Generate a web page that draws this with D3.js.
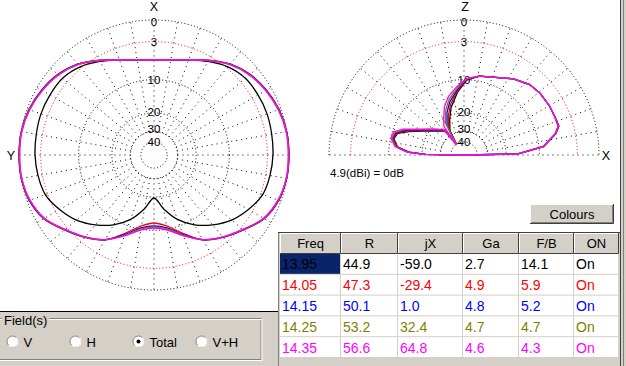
<!DOCTYPE html>
<html>
<head>
<meta charset="utf-8">
<script src="https://cdn.jsdelivr.net/npm/d3@7"></script>
<style>
  body { margin: 0; background: #fff; overflow: hidden; }
  svg { display: block; font-family: "Liberation Sans", Arial, sans-serif; }
</style>
</head>
<body>
<svg id="chart" width="626" height="366"></svg>
<script>
// ---- data ----
const ringLevels = [0, -3, -10, -20, -30, -40];
const ringLabels = ['0', '3', '10', '20', '30', '40'];
const seriesColours = ['#000000', '#ff0000', '#0000ff', '#808000', '#ff00ff'];

// azimuth plot (angle from X toward Y, pattern mirrors on the other side)
const azAngles  = [0, 10, 20, 30, 40, 50, 60, 70, 80, 90, 100, 110, 120, 130, 140, 150, 160, 170, 180];
const azBlack   = [-6.03, -5.76, -4.96, -3.83, -2.75, -2.12, -2.01, -1.98, -2.09, -2.17, -2.34, -2.65, -3.67, -4.93, -6.73, -8.85, -11.64, -15.57, -19.64];
const azRed     = [-6.03, -5.76, -4.96, -3.60, -2.20, -1.25, -0.66, -0.22, -0.02, 0.00, -0.02, -0.28, -1.00, -2.50, -3.90, -5.50, -8.35, -10.79, -11.77];
const azBlue    = [-6.03, -5.76, -4.96, -3.62, -2.24, -1.30, -0.70, -0.27, -0.05, -0.03, -0.05, -0.32, -1.04, -2.55, -3.94, -5.52, -8.04, -10.32, -11.03];
const azOlive   = [-6.03, -5.76, -4.96, -3.65, -2.28, -1.34, -0.75, -0.31, -0.07, -0.06, -0.07, -0.36, -1.08, -2.59, -3.98, -5.54, -7.84, -10.09, -10.79];
const azMagenta = [-6.03, -5.76, -4.96, -3.67, -2.31, -1.38, -0.79, -0.36, -0.10, -0.09, -0.10, -0.40, -1.12, -2.63, -4.01, -5.55, -7.72, -9.82, -10.55];

// elevation plot (angle from X up over Z)
const elAngles  = [0, 1, 6, 13, 17, 23, 30, 39, 47, 57, 68, 79, 88, 96, 105, 112, 120, 125, 127, 129, 135, 140, 150, 157, 162, 167, 173, 177, 179, 180];
const elBlack   = [-99, -16.0, -9.0, -6.2, -5.3, -5.4, -5.4, -5.5, -5.8, -6.8, -8.2, -8.9, -10.1, -13.1, -17.2, -21.6, -27.0, -40.0, -25.8, -25.3, -23.7, -22.1, -17.8, -13.9, -11.3, -10.8, -12.0, -15.4, -21.8, -99];
const elRed     = [-99, -16.0, -9.0, -6.2, -5.3, -5.4, -5.4, -5.5, -5.8, -6.8, -8.2, -8.9, -10.0, -12.8, -16.3, -20.1, -25.3, -40.0, -25.5, -25.1, -23.5, -21.8, -17.5, -13.5, -11.1, -10.7, -11.9, -15.2, -21.5, -99];
const elBlue    = [-99, -16.1, -9.1, -6.3, -5.4, -5.4, -5.4, -5.5, -5.8, -6.8, -8.2, -8.9, -9.9, -12.4, -15.4, -18.7, -23.7, -40.0, -25.1, -24.8, -23.2, -21.4, -17.1, -13.0, -10.9, -10.5, -11.7, -15.0, -21.2, -99];
const elOlive   = [-99, -16.1, -9.1, -6.3, -5.4, -5.4, -5.4, -5.5, -5.8, -6.8, -8.2, -8.9, -9.8, -12.0, -14.6, -17.5, -22.1, -40.0, -24.7, -24.5, -22.9, -21.1, -16.8, -12.6, -10.6, -10.3, -11.6, -14.9, -20.9, -99];
const elMagenta = [-99, -16.1, -9.1, -6.3, -5.4, -5.4, -5.4, -5.5, -5.8, -6.8, -8.2, -8.9, -9.7, -11.6, -13.8, -16.3, -20.6, -23.2, -41.0, -24.2, -22.5, -20.7, -16.4, -12.2, -10.3, -10.1, -11.4, -14.7, -20.6, -99];

// table
const tableHeaders = ['Freq', 'R', 'jX', 'Ga', 'F/B', 'ON'];
const freqs   = ['13.95', '14.05', '14.15', '14.25', '14.35'];
const resR    = ['44.9', '47.3', '50.1', '53.2', '56.6'];
const resX    = ['-59.0', '-29.4', '1.0', '32.4', '64.8'];
const gainGa  = ['2.7', '4.9', '4.8', '4.7', '4.6'];
const fbRatio = ['14.1', '5.9', '5.2', '4.7', '4.3'];
const onState = ['On', 'On', 'On', 'On', 'On'];
const fieldOptions = ['V', 'H', 'Total', 'V+H'];

const azSeries = [azBlack, azRed, azBlue, azOlive, azMagenta];
const elSeries = [elBlack, elRed, elBlue, elOlive, elMagenta];

// ---- drawing ----
const svg = d3.select('#chart');
const FACE = '#d4d0c8';
const R = 135;
const rad = Math.PI / 180;

// ARRL style log scale: 2 dB per 0.89 step, as a power scale on linear gain
const rScale = d3.scalePow().exponent(0.25305).domain([0, 1]).range([0, R]);
const radius = db => rScale(Math.pow(10, db / 10));
// small nudges so the ring labels sit as in the original
const labelShift = [1.5, 0, 0, -1, -2.5, 0];

svg.append('rect').attr('width', 626).attr('height', 366).attr('fill', '#fff');

function drawGrid(g, half) {
    ringLevels.forEach(lvl => {
        const r = radius(lvl);
        const p = d3.path();
        if (half) { p.moveTo(-r, 0); p.arc(0, 0, r, Math.PI, 2 * Math.PI); }
        else { p.moveTo(r, 0); p.arc(0, 0, r, 0, 2 * Math.PI); }
        g.append('path')
            .attr('d', p.toString())
            .attr('fill', 'none')
            .attr('stroke', lvl === -3 ? '#ff0000' : '#000')
            .attr('stroke-dasharray', '1 2.3');
    });

    const r0 = radius(-30);
    g.append('g').selectAll('line')
        .data(d3.range(0, half ? 181 : 360, 10))
        .enter().append('line')
        .attr('x1', a => r0 * Math.cos(a * rad))
        .attr('y1', a => -r0 * Math.sin(a * rad))
        .attr('x2', a => R * Math.cos(a * rad))
        .attr('y2', a => -R * Math.sin(a * rad))
        .attr('stroke', '#000')
        .attr('stroke-dasharray', '1 4');

    g.append('g').selectAll('text')
        .data(ringLevels)
        .enter().append('text')
        .text((d, i) => ringLabels[i])
        .attr('x', 0)
        .attr('y', (d, i) => -radius(d) + labelShift[i])
        .attr('text-anchor', 'middle')
        .attr('dominant-baseline', 'central')
        .attr('font-size', 11.5);
}

function axisLabel(g, txt, x, y) {
    g.append('text').text(txt)
        .attr('x', x).attr('y', y)
        .attr('text-anchor', 'middle')
        .attr('dominant-baseline', 'central')
        .attr('font-size', 12.5);
}

// azimuth plot
const az = svg.append('g').attr('transform', 'translate(154,155)');
drawGrid(az, false);
axisLabel(az, 'X', 0, -148);
axisLabel(az, 'Y', -143, 1);

const azLine = d3.lineRadial()
    .angle(d => d.a)
    .radius(d => radius(d.db))
    .curve(d3.curveCatmullRomClosed.alpha(0.5));

azSeries.forEach((vals, s) => {
    const pts = azAngles.map((a, i) => ({ a: -a * rad, db: vals[i] }));
    for (let i = azAngles.length - 2; i > 0; i--)
        pts.push({ a: azAngles[i] * rad, db: vals[i] });
    az.append('path')
        .attr('d', azLine(pts))
        .attr('fill', 'none')
        .attr('stroke', seriesColours[s])
        .attr('stroke-width', 1.3);
});

// elevation plot
const el = svg.append('g').attr('transform', 'translate(464,155)');
drawGrid(el, true);
axisLabel(el, 'Z', 1, -148);
axisLabel(el, 'X', 142, 1);

const elLine = d3.lineRadial()
    .angle(d => Math.PI / 2 - d.a * rad)
    .radius(d => radius(d.db))
    .curve(d3.curveLinearClosed);

elSeries.forEach((vals, s) => {
    el.append('path')
        .attr('d', elLine(elAngles.map((a, i) => ({ a: a, db: vals[i] }))))
        .attr('fill', 'none')
        .attr('stroke', seriesColours[s])
        .attr('stroke-width', 1.3);
});

svg.append('text').text('4.9(dBi) = 0dB')
    .attr('x', 330).attr('y', 177)
    .attr('font-size', 11.5);

// window chrome
svg.append('rect').attr('x', 0).attr('y', 311).attr('width', 279).attr('height', 55).attr('fill', FACE);
svg.append('line').attr('x1', 0).attr('x2', 279).attr('y1', 311.5).attr('y2', 311.5).attr('stroke', '#000');
svg.append('rect').attr('x', 620).attr('y', 0).attr('width', 6).attr('height', 366).attr('fill', FACE);
svg.append('line').attr('x1', 620.5).attr('x2', 620.5).attr('y1', 0).attr('y2', 366).attr('stroke', '#404040');
svg.append('line').attr('x1', 623.5).attr('x2', 623.5).attr('y1', 0).attr('y2', 366).attr('stroke', '#808080');

// Colours button
function button3d(x, y, w, h) {
    svg.append('rect').attr('x', x).attr('y', y).attr('width', w).attr('height', h).attr('fill', FACE);
    svg.append('path').attr('d', `M${x + 0.5},${y + h}V${y + 0.5}H${x + w}`).attr('fill', 'none').attr('stroke', '#fff');
    svg.append('path').attr('d', `M${x},${y + h - 0.5}H${x + w - 0.5}V${y}`).attr('fill', 'none').attr('stroke', '#404040');
    svg.append('path').attr('d', `M${x + 1},${y + h - 1.5}H${x + w - 1.5}V${y + 1}`).attr('fill', 'none').attr('stroke', '#808080');
}
button3d(530, 204, 84, 20);
svg.append('text').text('Colours')
    .attr('x', 572).attr('y', 214.5)
    .attr('text-anchor', 'middle').attr('dominant-baseline', 'central')
    .attr('font-size', 13);

// Field(s) group box
svg.append('rect').attr('x', -2).attr('y', 318.5).attr('width', 263).attr('height', 41)
    .attr('fill', 'none').attr('stroke', '#808080');
svg.append('rect').attr('x', -1).attr('y', 319.5).attr('width', 263).attr('height', 41)
    .attr('fill', 'none').attr('stroke', '#fff');
svg.append('rect').attr('x', 2).attr('y', 312).attr('width', 47).attr('height', 14).attr('fill', FACE);
svg.append('text').text('Field(s)')
    .attr('x', 4).attr('y', 320.5)
    .attr('dominant-baseline', 'central').attr('font-size', 13);

const radioX = [12.5, 75.5, 138.5, 201.5];
const radios = svg.append('g').selectAll('g')
    .data(fieldOptions)
    .enter().append('g')
    .attr('transform', (d, i) => `translate(${radioX[i]},341.5)`);
radios.append('circle').attr('r', 5.5).attr('fill', '#fff').attr('stroke', '#808080');
radios.append('path').attr('d', 'M3.9,-3.9A5.5,5.5 0 0 1 -3.9,3.9').attr('fill', 'none').attr('stroke', '#fff').attr('stroke-width', 1.2);
radios.append('circle').attr('r', 2).attr('fill', d => d === 'Total' ? '#000' : 'none');
radios.append('text').text(d => d)
    .attr('x', 11).attr('y', 0.5)
    .attr('dominant-baseline', 'central').attr('font-size', 13);

// results table
const colX = [280, 341, 398, 463, 519, 574, 619];
const headTop = 233, headH = 21, rowH = 20.8;
const rows = freqs.map((f, i) => [f, resR[i], resX[i], gainGa[i], fbRatio[i], onState[i]]);

svg.append('rect').attr('x', 278).attr('y', headTop - 1).attr('width', 342).attr('height', 134).attr('fill', FACE);
svg.append('line').attr('x1', 278.5).attr('x2', 278.5).attr('y1', headTop - 1).attr('y2', 366).attr('stroke', '#808080');
svg.append('line').attr('x1', 278).attr('x2', 620).attr('y1', headTop - 0.5).attr('y2', headTop - 0.5).attr('stroke', '#404040');

const table = svg.append('g');
const head = table.selectAll('g.head')
    .data(tableHeaders)
    .enter().append('g');
head.append('rect')
    .attr('x', (d, i) => colX[i]).attr('y', headTop)
    .attr('width', (d, i) => colX[i + 1] - colX[i]).attr('height', headH)
    .attr('fill', FACE);
head.append('path')
    .attr('d', (d, i) => `M${colX[i] + 0.5},${headTop + headH}V${headTop + 0.5}H${colX[i + 1] - 1}`)
    .attr('fill', 'none').attr('stroke', '#fff');
head.append('path')
    .attr('d', (d, i) => `M${colX[i]},${headTop + headH - 0.5}H${colX[i + 1] - 0.5}V${headTop}`)
    .attr('fill', 'none').attr('stroke', '#404040');
head.append('text').text(d => d)
    .attr('x', (d, i) => (colX[i] + colX[i + 1]) / 2)
    .attr('y', headTop + headH / 2)
    .attr('text-anchor', 'middle').attr('dominant-baseline', 'central')
    .attr('font-size', 13);

const bodyTop = headTop + headH;
const row = table.selectAll('g.row')
    .data(rows)
    .enter().append('g')
    .attr('transform', (d, i) => `translate(0,${bodyTop + i * rowH})`);
row.selectAll('rect')
    .data((d, i) => d.map((v, j) => ({ v: v, r: i, c: j })))
    .enter().append('rect')
    .attr('x', d => colX[d.c]).attr('y', 0)
    .attr('width', d => colX[d.c + 1] - colX[d.c] - 1).attr('height', rowH - 1)
    .attr('fill', d => d.r === 0 && d.c === 0 ? '#0a246a' : '#fff');
row.selectAll('text')
    .data((d, i) => d.map((v, j) => ({ v: v, r: i, c: j })))
    .enter().append('text')
    .text(d => d.v)
    .attr('x', d => colX[d.c] + 2)
    .attr('y', rowH / 2)
    .attr('dominant-baseline', 'central')
    .attr('font-size', 14)
    .attr('fill', d => seriesColours[d.r]);
</script>
</body>
</html>
